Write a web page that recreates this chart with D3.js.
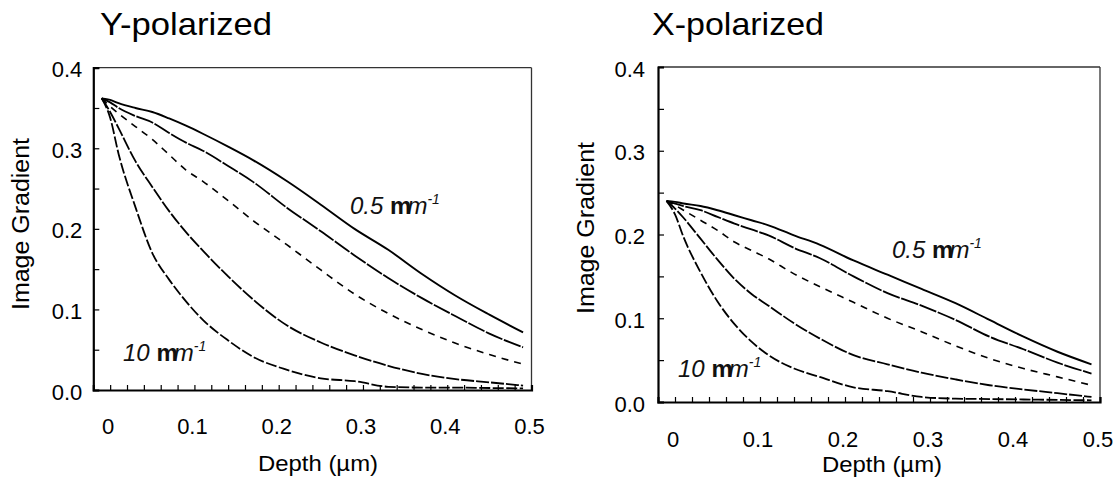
<!DOCTYPE html>
<html>
<head>
<meta charset="utf-8">
<script src="https://cdn.jsdelivr.net/npm/d3@7"></script>
<style>
  html, body { margin: 0; padding: 0; background: #fff; }
  svg { display: block; font-family: Arial, "Liberation Sans", sans-serif; }
</style>
</head>
<body>
<svg id="chart" width="1117" height="479"></svg>
<script>
// ---------- data ----------
const depth = [-0.01, 0, 0.01, 0.03, 0.05, 0.07, 0.09, 0.11, 0.14, 0.17, 0.21, 0.25, 0.29, 0.33, 0.37, 0.41, 0.45, 0.49];

// Y-polarized panel (top curve = 0.5 /um ... bottom curve = 10 /um)
const yPol1 = [0.362, 0.360, 0.356, 0.350, 0.345, 0.337, 0.328, 0.318, 0.302, 0.285, 0.259, 0.230, 0.200, 0.174, 0.144, 0.117, 0.0935, 0.0715];
const yPol2 = [0.362, 0.357, 0.350, 0.340, 0.332, 0.319, 0.307, 0.297, 0.278, 0.258, 0.226, 0.197, 0.167, 0.139, 0.114, 0.0915, 0.070, 0.053];
const yPol3 = [0.362, 0.352, 0.343, 0.327, 0.311, 0.292, 0.273, 0.259, 0.235, 0.210, 0.180, 0.149, 0.119, 0.095, 0.075, 0.058, 0.044, 0.032];
const yPol4 = [0.362, 0.345, 0.325, 0.284, 0.252, 0.222, 0.196, 0.173, 0.141, 0.112, 0.080, 0.059, 0.043, 0.030, 0.020, 0.0135, 0.0095, 0.0055];
const yPol5 = [0.362, 0.338, 0.293, 0.227, 0.170, 0.137, 0.110, 0.087, 0.0615, 0.041, 0.025, 0.0145, 0.011, 0.004, 0.003, 0.003, 0.0025, 0.002];

// X-polarized panel
const xPol1 = [0.240, 0.239, 0.237, 0.234, 0.229, 0.223, 0.217, 0.211, 0.199, 0.188, 0.169, 0.152, 0.135, 0.118, 0.098, 0.078, 0.060, 0.045];
const xPol2 = [0.240, 0.237, 0.234, 0.229, 0.221, 0.213, 0.206, 0.199, 0.184, 0.172, 0.150, 0.130, 0.115, 0.098, 0.078, 0.063, 0.047, 0.034];
const xPol3 = [0.240, 0.235, 0.229, 0.217, 0.205, 0.191, 0.181, 0.171, 0.153, 0.138, 0.119, 0.100, 0.084, 0.067, 0.052, 0.040, 0.030, 0.020];
const xPol4 = [0.240, 0.231, 0.220, 0.195, 0.170, 0.147, 0.129, 0.115, 0.094, 0.076, 0.056, 0.045, 0.035, 0.027, 0.020, 0.015, 0.0105, 0.006];
const xPol5 = [0.240, 0.224, 0.197, 0.155, 0.120, 0.093, 0.072, 0.056, 0.040, 0.030, 0.0175, 0.013, 0.006, 0.004, 0.0035, 0.003, 0.0025, 0.002];

const xTickLabels = [0, 0.1, 0.2, 0.3, 0.4, 0.5];
const yTickLabels = [0, 0.1, 0.2, 0.3, 0.4];
const xMinorTicks = d3.range(0, 0.5001, 0.02);
const yMinorTicks = d3.range(0, 0.4001, 0.05);

const titles = ["Y-polarized", "X-polarized"];
const xTitle = "Depth (\u00b5m)";
const yTitle = "Image Gradient";
const labelHigh = "0.5";
const labelLow = "10";

// ---------- styles ----------
const lineStyles = [
  { dash: null,     width: 1.9 },
  { dash: "18,1.6", width: 1.8 },
  { dash: "7,6",    width: 1.6 },
  { dash: "13,2",   width: 1.8 },
  { dash: "11,2.5", width: 1.8 }
];
const FONT = "Arial, 'Liberation Sans', sans-serif";

const svg = d3.select("#chart");

const panels = [
  { title: titles[0], series: [yPol1, yPol2, yPol3, yPol4, yPol5],
    xr: [93.3, 531.5], yr: [390, 67.7],
    titleX: 100, titleY: 35,
    xLabPad: 28, xTitleX: 318, xTitleY: 471,
    yTitleX: 29, yTitleY: 224, yLabPad: 11,
    hiX: 350, hiY: 214, loX: 123, loY: 361 },
  { title: titles[1], series: [xPol1, xPol2, xPol3, xPol4, xPol5],
    xr: [658, 1100], yr: [402, 67],
    titleX: 652, titleY: 35,
    xLabPad: 29, xTitleX: 882, xTitleY: 472,
    yTitleX: 594, yTitleY: 228, yLabPad: 13,
    hiX: 892, hiY: 258, loX: 678, loY: 377 }
];

panels.forEach(p => {
  const x = d3.scaleLinear().domain([-0.02, 0.5]).range(p.xr);
  const y = d3.scaleLinear().domain([0, 0.4]).range(p.yr);
  const g = svg.append("g");

  // title
  g.append("text").attr("x", p.titleX).attr("y", p.titleY)
    .attr("font-size", 32).attr("textLength", 172).attr("lengthAdjust", "spacingAndGlyphs")
    .attr("fill", "#000").text(p.title);

  // curves
  const line = d3.line().x((d, i) => x(depth[i])).y(d => y(d)).curve(d3.curveMonotoneX);
  p.series.forEach((s, k) => {
    g.append("path").datum(s)
      .attr("d", line)
      .attr("fill", "none")
      .attr("stroke", "#000")
      .attr("stroke-width", lineStyles[k].width)
      .attr("stroke-dasharray", lineStyles[k].dash)
      .attr("stroke-linejoin", "round");
  });

  // frame (top/right thinner)
  g.append("line").attr("x1", p.xr[0]).attr("x2", p.xr[1]).attr("y1", p.yr[1]).attr("y2", p.yr[1])
    .attr("stroke", "#333").attr("stroke-width", 1.3);
  g.append("line").attr("x1", p.xr[1]).attr("x2", p.xr[1]).attr("y1", p.yr[1]).attr("y2", p.yr[0])
    .attr("stroke", "#333").attr("stroke-width", 1.3);

  // minor ticks (inward)
  const xMinor = g.append("g").attr("transform", `translate(0,${p.yr[0]})`)
    .call(d3.axisBottom(x).tickValues(xMinorTicks).tickSize(-5).tickFormat(""));
  xMinor.select(".domain").attr("stroke", "#000").attr("stroke-width", 2.2);
  xMinor.selectAll(".tick line").attr("stroke", "#000").attr("stroke-width", 1.2);

  const yMinor = g.append("g").attr("transform", `translate(${p.xr[0]},0)`)
    .call(d3.axisLeft(y).tickValues(yMinorTicks).tickSize(-6).tickFormat(""));
  yMinor.select(".domain").attr("stroke", "#000").attr("stroke-width", 2.2);
  yMinor.selectAll(".tick line").attr("stroke", "#000").attr("stroke-width", 1.2);

  // tick labels
  const xLab = g.append("g").attr("transform", `translate(-2.5,${p.yr[0]})`)
    .call(d3.axisBottom(x).tickValues(xTickLabels).tickSize(0).tickPadding(p.xLabPad)
      .tickFormat(d => d === 0 ? "0" : d3.format(".1f")(d)));
  xLab.select(".domain").remove();
  xLab.selectAll("text").attr("font-size", 22).attr("font-family", FONT).attr("fill", "#000");

  const yLab = g.append("g").attr("transform", `translate(${p.xr[0]},2)`)
    .call(d3.axisLeft(y).tickValues(yTickLabels).tickSize(0).tickPadding(p.yLabPad)
      .tickFormat(d3.format(".1f")));
  yLab.select(".domain").remove();
  yLab.selectAll("text").attr("font-size", 22).attr("font-family", FONT).attr("fill", "#000");

  // axis titles
  g.append("text").attr("x", p.xTitleX).attr("y", p.xTitleY)
    .attr("text-anchor", "middle").attr("font-size", 22)
    .attr("textLength", 120).attr("lengthAdjust", "spacingAndGlyphs").text(xTitle);
  g.append("text").attr("transform", `translate(${p.yTitleX},${p.yTitleY}) rotate(-90)`)
    .attr("text-anchor", "middle").attr("font-size", 23)
    .attr("textLength", 172).attr("lengthAdjust", "spacingAndGlyphs").text(yTitle);

  // curve annotations
  [[labelHigh, p.hiX, p.hiY], [labelLow, p.loX, p.loY]].forEach(([val, lx, ly]) => {
    const t = g.append("text").attr("x", lx).attr("y", ly)
      .attr("font-size", 24).attr("font-style", "italic").attr("fill", "#111");
    t.append("tspan").text(val + " ");
    t.append("tspan").attr("font-weight", "bold").attr("font-style", "normal")
      .attr("letter-spacing", -4).text("m");
    t.append("tspan").text("m");
    t.append("tspan").attr("font-size", 14).attr("dy", -10).text("-1");
  });
});
</script>
</body>
</html>
